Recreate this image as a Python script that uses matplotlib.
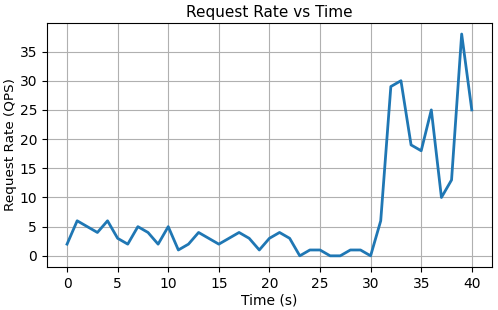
import numpy as np
import matplotlib.pyplot as plt

# Data
time_s = np.arange(0, 41)
qps = [2, 6, 5, 4, 6, 3, 2, 5, 4, 2, 5, 1, 2, 4, 3, 2, 3, 4, 3, 1,
       3, 4, 3, 0, 1, 1, 0, 0, 1, 1, 0, 6, 29, 30, 19, 18, 25, 10, 13, 38, 25]

plt.rcParams['font.size'] = 10
fig, ax = plt.subplots(figsize=(4.98, 3.10), dpi=100)
ax.plot(time_s, qps, linewidth=2, color='#1f77b4')
ax.set_title('Request Rate vs Time', fontsize=11, pad=4)
ax.set_xlabel('Time (s)', labelpad=2)
ax.set_ylabel('Request Rate (QPS)', fontsize=9.7)
ax.yaxis.set_label_coords(-0.067, 0.5)
ax.set_yticks(np.arange(0, 40, 5))
ax.grid()
plt.subplots_adjust(left=0.094, right=0.988, top=0.926, bottom=0.139)
plt.savefig('out.png', dpi=100)
